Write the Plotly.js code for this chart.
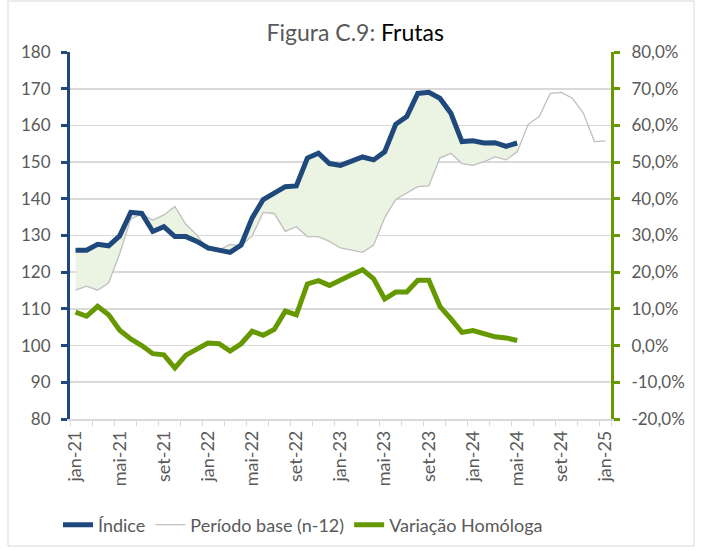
<!DOCTYPE html>
<html>
<head>
<meta charset="utf-8">
<script src="https://cdn.plot.ly/plotly-3.0.1.min.js"></script>
<style>html,body{margin:0;padding:0;background:#fff;}#chart{width:702px;height:551px;}</style>
</head>
<body>
<div id="chart"></div>
<script>
const months = ['jan-21','fev-21','mar-21','abr-21','mai-21','jun-21','jul-21','ago-21','set-21','out-21','nov-21','dez-21',
  'jan-22','fev-22','mar-22','abr-22','mai-22','jun-22','jul-22','ago-22','set-22','out-22','nov-22','dez-22',
  'jan-23','fev-23','mar-23','abr-23','mai-23','jun-23','jul-23','ago-23','set-23','out-23','nov-23','dez-23',
  'jan-24','fev-24','mar-24','abr-24','mai-24','jun-24','jul-24','ago-24','set-24','out-24','nov-24','dez-24',
  'jan-25'];

const indice = [126.0,126.0,127.6,127.2,129.9,136.3,136.0,131.1,132.4,129.7,129.7,128.4,
  126.6,125.9,125.4,127.4,134.8,139.8,141.5,143.3,143.5,151.1,152.4,149.6,
  149.1,150.1,151.4,150.6,152.8,160.3,162.4,168.7,169.0,167.4,163.3,155.6,
  155.8,155.2,155.3,154.3,155.2];

const periodoBase = [115.1,116.2,115.1,117.1,125.0,134.5,135.8,134.2,135.6,137.9,133.0,130.1,
  126.0,126.0,127.6,127.2,129.9,136.3,136.0,131.1,132.4,129.7,129.7,128.4,
  126.6,125.9,125.4,127.4,134.8,139.8,141.5,143.3,143.5,151.1,152.4,149.6,
  149.1,150.1,151.4,150.6,152.8,160.3,162.4,168.7,169.0,167.4,163.3,155.6,
  155.8];

const variacao = [9.1,8.0,10.7,8.4,4.2,1.8,0.0,-2.2,-2.5,-6.1,-2.6,-1.1,
  0.7,0.5,-1.5,0.5,3.9,2.8,4.4,9.4,8.4,16.8,17.7,16.4,
  18.0,19.3,20.7,18.2,12.7,14.6,14.6,17.8,17.8,10.7,7.3,3.6,
  4.1,3.2,2.4,2.1,1.4];

const xTickLabels = ['jan-21','mai-21','set-21','jan-22','mai-22','set-22','jan-23','mai-23','set-23','jan-24','mai-24','set-24','jan-25'];
const yLeftTicks = [80,90,100,110,120,130,140,150,160,170,180];
const yRightTicks = [-20,-10,0,10,20,30,40,50,60,70,80];
const yRightLabels = ['-20,0%','-10,0%','0,0%','10,0%','20,0%','30,0%','40,0%','50,0%','60,0%','70,0%','80,0%'];

const nIdx = indice.length;
const xIdx = months.slice(0, nIdx);

// tick marks every 2 months on boundaries, labels every 4 months
const xTickVals = months.filter((m, i) => i % 2 === 0);
const xTickText = xTickVals.map(m => xTickLabels.includes(m) ? m : '');

const FONT = 'Lato, "Liberation Sans", sans-serif';
const GREY_TXT = '#595959';
const BLUE = '#1F497D';
const GREEN = '#669900';

const traces = [
  { x: xIdx, y: periodoBase.slice(0, nIdx), type: 'scatter', mode: 'lines',
    line: { width: 0, color: 'rgba(0,0,0,0)' }, showlegend: false, hoverinfo: 'skip' },
  { x: xIdx, y: indice, type: 'scatter', mode: 'lines', fill: 'tonexty',
    fillcolor: '#EBF3E2', line: { width: 0, color: 'rgba(0,0,0,0)' }, showlegend: false, hoverinfo: 'skip' },
  { x: months, y: periodoBase, type: 'scatter', mode: 'lines', name: 'Período base (n-12)',
    line: { color: '#BFBFBF', width: 1.3 }, legendrank: 2 },
  { x: xIdx, y: indice, type: 'scatter', mode: 'lines', name: 'Índice',
    line: { color: BLUE, width: 5 }, legendrank: 1 },
  { x: xIdx, y: variacao, type: 'scatter', mode: 'lines', name: 'Variação Homóloga', yaxis: 'y2',
    line: { color: GREEN, width: 5 }, legendrank: 3 }
];

const PL = 70, PR = 611, PT = 52, PB = 419;
const pw = PR - PL, ph = PB - PT;

const layout = {
  width: 702, height: 551,
  margin: { l: PL, r: 702 - PR, t: PT, b: 551 - PB, pad: 0 },
  paper_bgcolor: '#fff', plot_bgcolor: '#fff',
  font: { family: FONT, size: 17, color: GREY_TXT },
  title: {
    text: '<span style="color:#595959">Figura C.9: </span><span style="color:#000000">Frutas</span>',
    font: { family: FONT, size: 23, color: GREY_TXT },
    x: 0.506, xref: 'container', xanchor: 'center',
    y: 1 - 33 / 551, yref: 'container', yanchor: 'middle'
  },
  xaxis: {
    type: 'category', categoryorder: 'array', categoryarray: months,
    range: [-0.5, months.length - 0.5],
    tickmode: 'array', tickvals: xTickVals, ticktext: xTickText,
    tickson: 'boundaries', ticks: 'outside', ticklen: 5, tickcolor: '#D9D9D9', tickwidth: 1,
    tickangle: -90, tickfont: { family: FONT, size: 18, color: GREY_TXT },
    showgrid: false, showline: true, linecolor: '#D9D9D9', linewidth: 1.5,
    zeroline: false, fixedrange: true, ticklabelstandoff: 3
  },
  yaxis: {
    range: [80, 180], tickmode: 'array', tickvals: yLeftTicks,
    showgrid: true, gridcolor: '#D9D9D9', gridwidth: 1.6,
    showline: true, linecolor: BLUE, linewidth: 3,
    ticks: 'outside', ticklen: 6, tickwidth: 3, tickcolor: BLUE,
    tickfont: { family: FONT, size: 17, color: GREY_TXT },
    zeroline: false, ticklabelstandoff: 7
  },
  yaxis2: {
    overlaying: 'y', side: 'right', range: [-20, 80],
    tickmode: 'array', tickvals: yRightTicks, ticktext: yRightLabels,
    showgrid: false, showline: true, linecolor: GREEN, linewidth: 3,
    ticks: 'outside', ticklen: 6, tickwidth: 3, tickcolor: GREEN,
    tickfont: { family: FONT, size: 17, color: GREY_TXT },
    zeroline: false, ticklabelstandoff: 8
  },
  showlegend: true,
  legend: {
    orientation: 'h', xref: 'container', yref: 'container',
    x: 58 / 702, xanchor: 'left', y: 26 / 551, yanchor: 'middle',
    font: { family: FONT, size: 18, color: GREY_TXT },
    traceorder: 'normal', bgcolor: 'rgba(0,0,0,0)'
  },
  shapes: [{
    type: 'rect', xref: 'paper', yref: 'paper', layer: 'below',
    x0: (8 - PL) / pw, x1: (694 - PL) / pw,
    y0: (PB - 546) / ph, y1: (PB - 1) / ph,
    line: { color: '#D9D9D9', width: 1 }, fillcolor: 'rgba(0,0,0,0)'
  }]
};

Plotly.newPlot('chart', traces, layout, { displayModeBar: false, staticPlot: true });
</script>
</body>
</html>
